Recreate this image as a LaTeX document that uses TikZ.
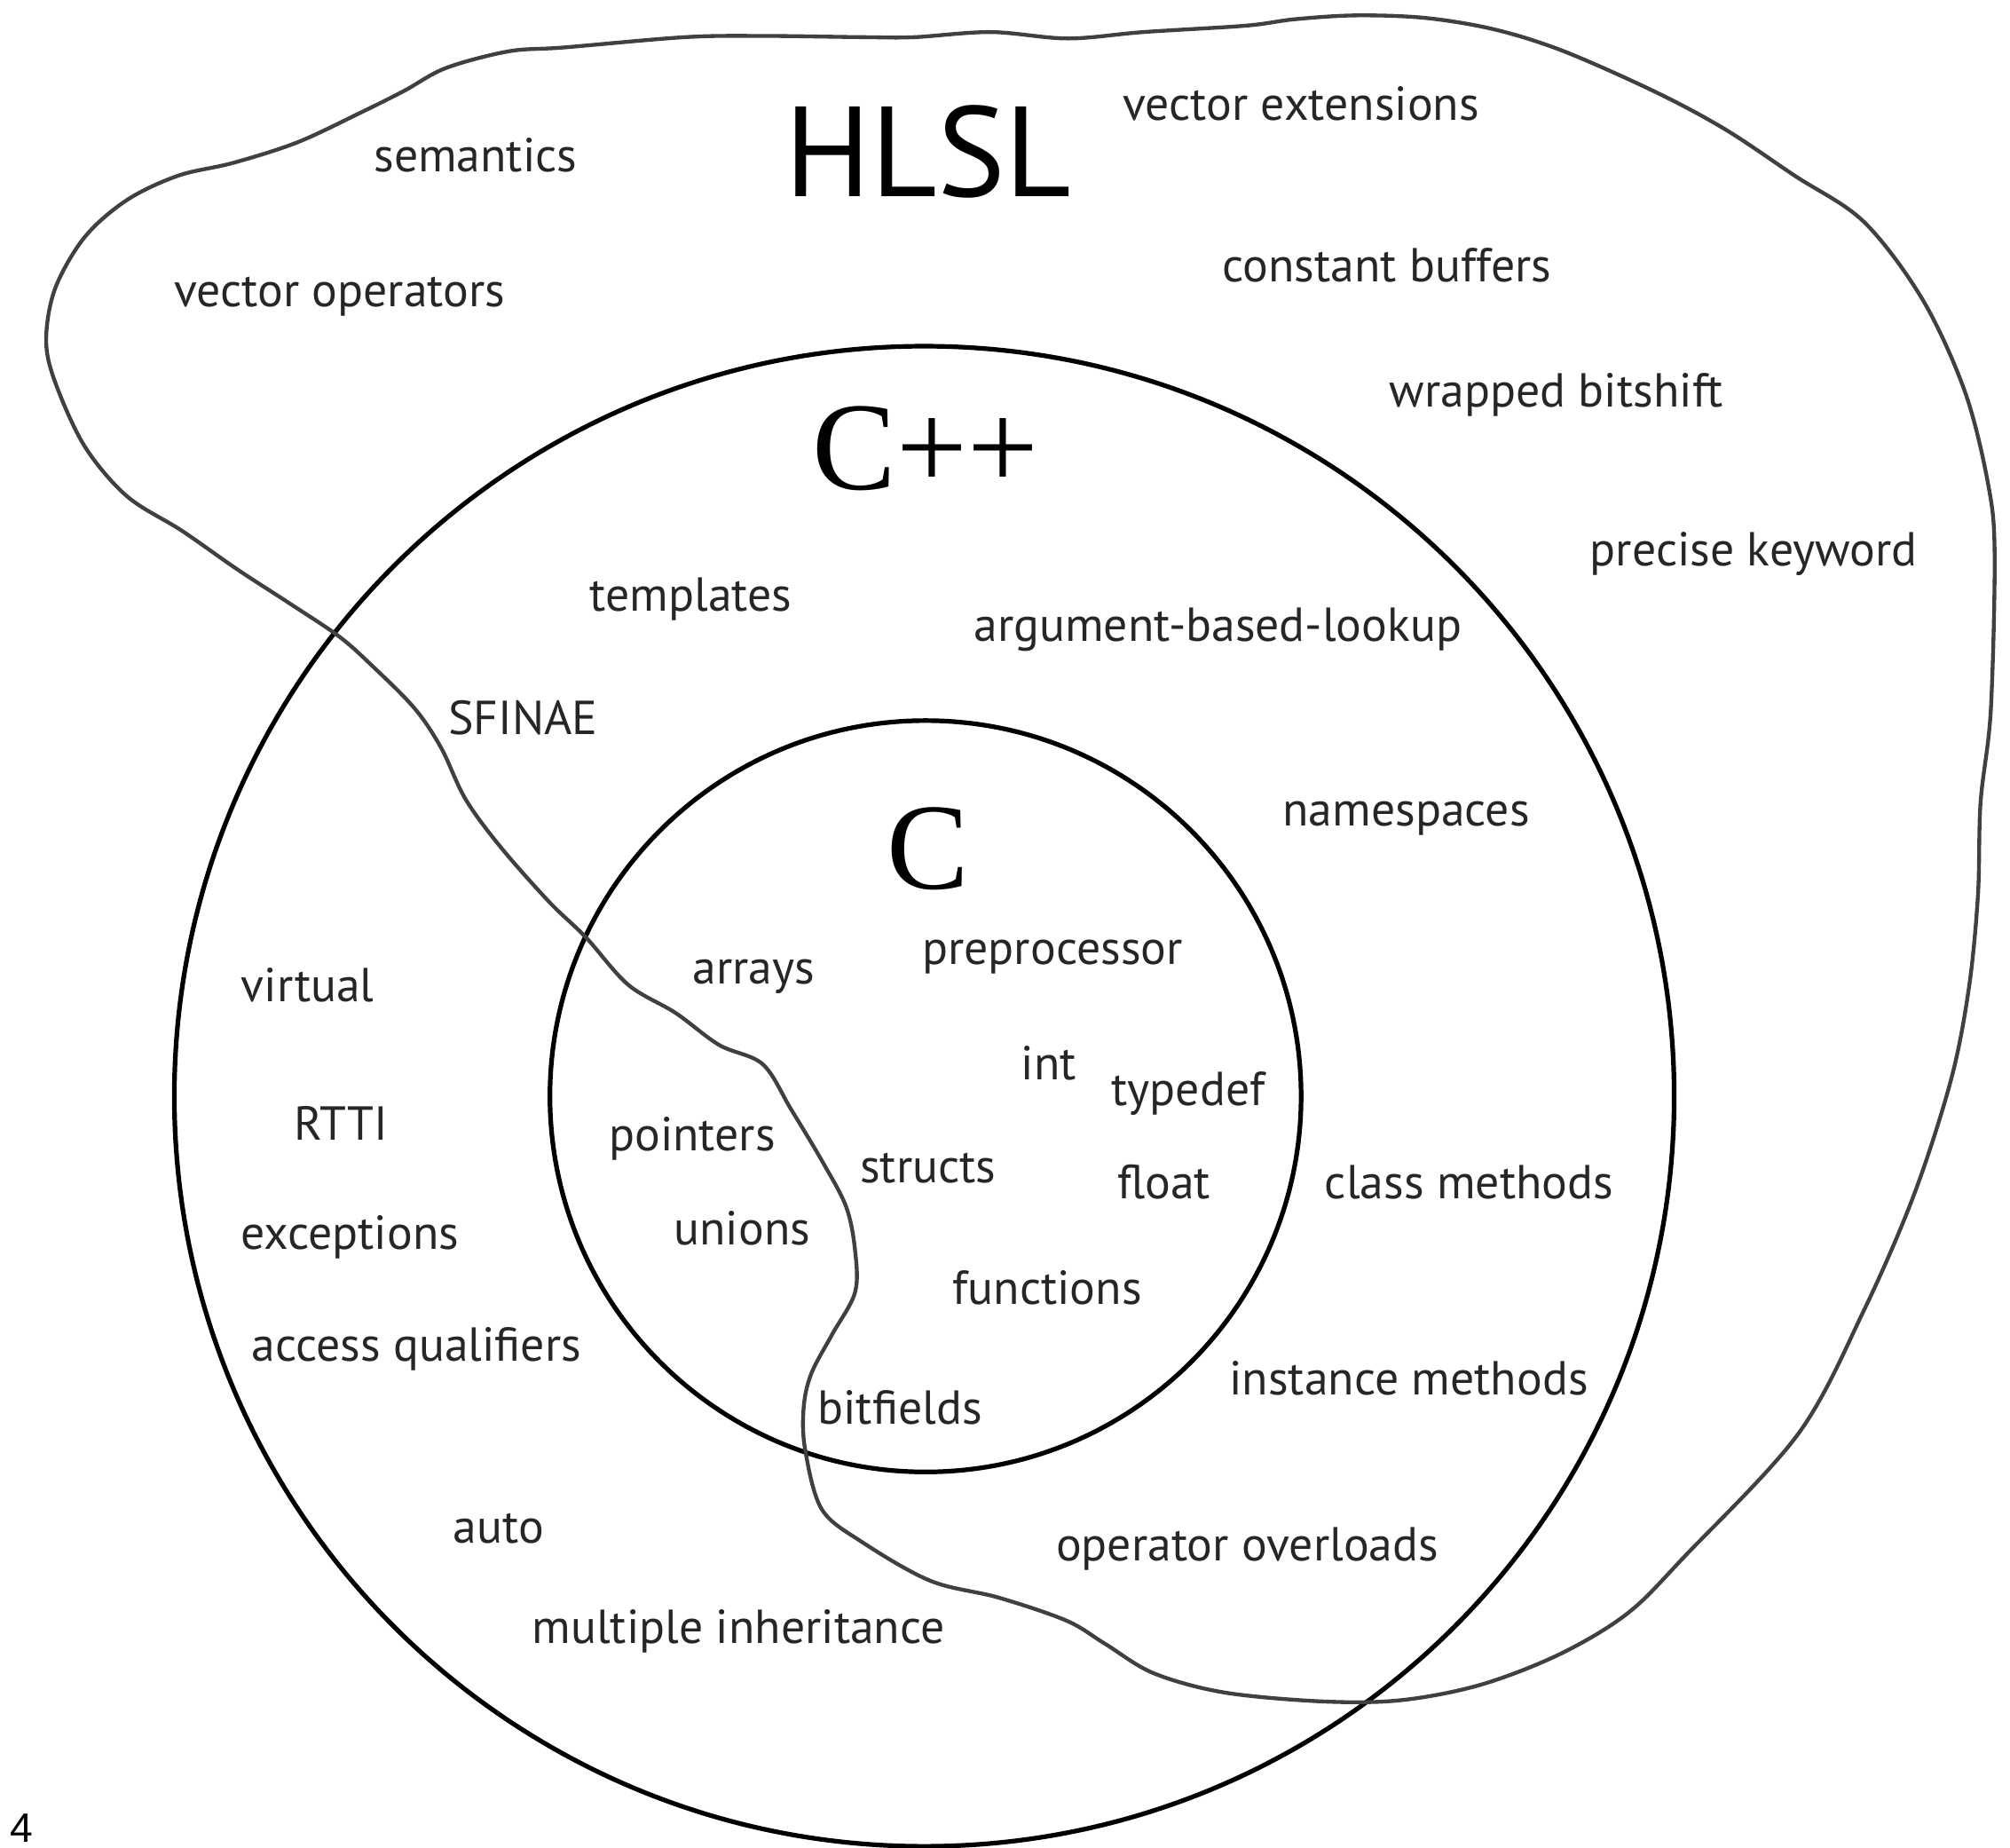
\documentclass[tikz,border=0pt]{standalone}
\usepackage{fontspec}
\setmainfont{PT Sans}
\newfontfamily\langserif{Liberation Serif}
\newfontfamily\pagenum{Liberation Sans}
\usetikzlibrary{positioning}

\begin{document}
\begin{tikzpicture}[x=0.5pt,y=-0.5pt,
  item/.style={font=\fontsize{18.6}{21}\selectfont, text=black!85, inner sep=0pt},
  ring/.style={draw, circle, line width=1.8pt, inner sep=0pt},
  blob/.style={line width=1.5pt, black!75, line join=round}]

\useasboundingbox (0,0) rectangle (1568,1441);

% the two languages that nest
\node[ring, minimum size=585pt] (cpp) at (721,855) {};
\node[ring, minimum size=293pt] (c)   at (722,855) {};

% hand drawn outline of HLSL
\draw[blob] plot[smooth cycle, tension=0.55] coordinates {
  (36,265) (43,225) (66,185) (99,156) (139,137) (182,127) (232,111)
  (281,88) (315,71) (348,53) (397,40) (440,37) (534,29) (594,28)
  (674,29) (713,29) (773,25) (833,30) (892,25) (972,20) (1010,15)
  (1058,12) (1112,14) (1166,23) (1220,40) (1292,72) (1346,101)
  (1400,137) (1454,173) (1500,234) (1533,306) (1551,378) (1556,432)
  (1553,554) (1545,626) (1543,698) (1536,770) (1522,842) (1493,932)
  (1454,1022) (1403,1118) (1315,1213) (1270,1258) (1217,1290)
  (1155,1314) (1093,1326) (1032,1327) (955,1320) (900,1305)
  (862,1282) (832,1264) (779,1246) (726,1233) (673,1203) (641,1177)
  (628,1130) (627,1097) (633,1071) (649,1041) (667,1008) (667,975)
  (660,941) (641,905) (617,865) (595,830) (561,815) (527,790)
  (490,768) (457,731) (428,703) (390,660) (363,623) (344,583)
  (323,552) (289,518) (264,496) (225,470) (185,444) (142,414)
  (99,387) (66,348) (43,298)};

% titles
\node[inner sep=0pt, font=\fontsize{50}{55}\selectfont] (hlsl) at (724,118) {HLSL};
\node[inner sep=0pt, font=\langserif\fontsize{49}{54}\selectfont] (cpptitle) at (722,350) {C++};
\node[inner sep=0pt, font=\langserif\fontsize{48}{52}\selectfont] (ctitle) at (724,662) {C};

% HLSL only
\node[item] (semantics) at (371,121) {semantics};
\node[item] (vecops)    at (265,231) {vector operators};
\node[item] (vecext)    at (1015,81) {vector extensions};
\node[item] (cbuffers)  at (1082,207) {constant buffers};
\node[item] (bitshift)  at (1214,308) {wrapped bitshift};
\node[item] (precise)   at (1368,432) {precise keyword};

% C++ features
\node[item] (templates) at (539,467) {templates};
\node[item] (adl)       at (950,491) {argument-based-lookup};
\node[item] (sfinae)    at (408,560) {SFINAE};
\node[item] (namespc)   at (1097,638) {namespaces};
\node[item] (virtual)   at (240,768) {virtual};
\node[item] (rtti)      at (266,876) {RTTI};
\node[item] (except)    at (273,965) {exceptions};
\node[item] (access)    at (325,1052) {access qualifiers};
\node[item] (auto)      at (389,1192) {auto};
\node[item] (multinh)   at (576,1272) {multiple inheritance};
\node[item] (classm)    at (1146,922) {class methods};
\node[item] (instm)     at (1099,1075) {instance methods};
\node[item] (opover)    at (973,1208) {operator overloads};

% C features
\node[item] (arrays)    at (588,762) {arrays};
\node[item] (preproc)   at (821,746) {preprocessor};
\node[item] (int)       at (818,829) {int};
\node[item] (typedef)   at (927,853) {typedef};
\node[item] (pointers)  at (540,888) {pointers};
\node[item] (structs)   at (724,911) {structs};
\node[item] (float)     at (908,922) {float};
\node[item] (unions)    at (579,958) {unions};
\node[item] (functions) at (817,1004) {functions};
\node[item] (bitfields) at (702,1098) {bitfields};

\node[inner sep=0pt, font=\pagenum\fontsize{16}{18}\selectfont] (pagenr) at (17,1426) {4};

\end{tikzpicture}
\end{document}
